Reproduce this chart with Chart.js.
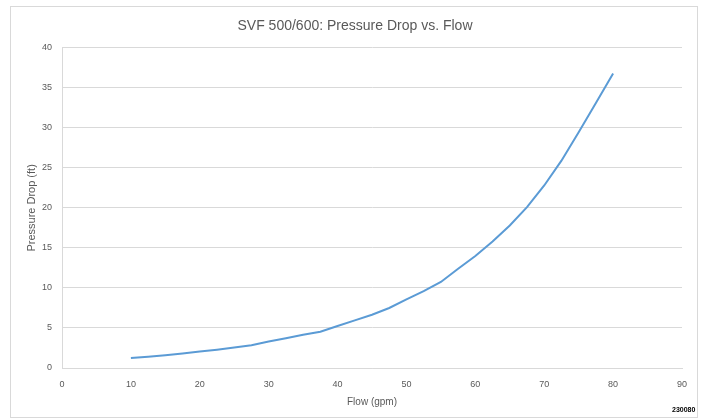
<!DOCTYPE html>
<html>
<head>
<meta charset="utf-8">
<script src="https://cdn.jsdelivr.net/npm/chart.js@4"></script>
<style>
  body { margin: 0; background: #fff; }
  #wrap { position: relative; width: 702px; height: 420px; }
  #frame { position: absolute; left: 10px; top: 6px; width: 686px; height: 410px; border: 1px solid #d9d9d9; pointer-events: none; }
  #code { position: absolute; left: 672px; top: 406px; font: bold 7px "Liberation Sans", Arial, sans-serif; color: #000; }
</style>
</head>
<body>
<div id="wrap">
  <canvas id="myChart" width="702" height="420"></canvas>
  <div id="frame"></div>
  <div id="code">230080</div>
</div>
<script>
// flow (gpm) and pressure drop (ft)
const flows = [10, 12.5, 15, 17.5, 20, 22.5, 25, 27.5, 30, 32.5, 35, 37.5, 40, 42.5, 45, 47.5, 50, 52.5, 55, 57.5, 60, 62.5, 65, 67.5, 70, 72.5, 75, 77.5, 80];
const drops = [1.25, 1.42, 1.6, 1.82, 2.05, 2.28, 2.55, 2.85, 3.3, 3.72, 4.15, 4.52, 5.25, 5.95, 6.65, 7.5, 8.56, 9.6, 10.75, 12.4, 14.0, 15.8, 17.8, 20.1, 22.8, 25.9, 29.45, 33.1, 36.8];

const xTicks = [0, 10, 20, 30, 40, 50, 60, 70, 80, 90];
const yTicks = [0, 5, 10, 15, 20, 25, 30, 35, 40];

const grey = '#595959';
const lineGrey = '#d9d9d9';
const fontFam = '"Liberation Sans", Arial, sans-serif';

// build point list for the scatter-line
var points = [];
for (let i = 0; i < flows.length; i++) {
  points.push({ x: flows[i], y: drops[i] });
}

const ctx = document.getElementById('myChart').getContext('2d');
const myChart = new Chart(ctx, {
  type: 'line',
  data: {
    datasets: [{
      label: 'Pressure Drop',
      data: points,
      borderColor: '#5b9bd5',
      borderWidth: 2,
      pointRadius: 0,
      tension: 0,
      fill: false
    }]
  },
  options: {
    responsive: false,
    animation: false,
    // left/right padding keeps the title centred on the frame
    layout: { padding: { left: 14, right: 6, top: 0, bottom: 0 } },
    plugins: {
      legend: { display: false },
      tooltip: { enabled: false },
      title: {
        display: true,
        text: 'SVF 500/600: Pressure Drop vs. Flow',
        color: grey,
        font: { family: fontFam, size: 14, weight: 'normal' },
        padding: { top: 18, bottom: 13 }
      }
    },
    scales: {
      x: {
        type: 'linear',
        min: 0,
        max: 90,
        afterBuildTicks: function (scale) {
          scale.ticks = xTicks.map(v => ({ value: v }));
        },
        afterFit: function (scale) { scale.height = 52; },
        grid: { display: false },
        border: { display: true, color: lineGrey, width: 1 },
        ticks: { color: grey, padding: 3, font: { family: fontFam, size: 9 } },
        title: {
          display: true,
          text: 'Flow (gpm)',
          color: grey,
          font: { family: fontFam, size: 10 },
          padding: { top: 0, bottom: 12 }
        }
      },
      y: {
        min: 0,
        max: 40,
        afterBuildTicks: function (scale) {
          scale.ticks = yTicks.map(v => ({ value: v }));
        },
        afterFit: function (scale) { scale.width = 48; },
        grid: { color: lineGrey, lineWidth: 1, drawTicks: false },
        border: { display: true, color: lineGrey, width: 1 },
        ticks: { color: grey, padding: 10, font: { family: fontFam, size: 9 } },
        title: {
          display: true,
          text: 'Pressure Drop (ft)',
          color: grey,
          font: { family: fontFam, size: 11 },
          padding: { top: 11, bottom: 0 }
        }
      },
      // empty spacer on the right so the plot ends where the reference does
      spacer: {
        position: 'right',
        min: 0,
        max: 40,
        afterFit: function (scale) { scale.width = 14; },
        grid: { display: false },
        border: { display: false },
        ticks: { display: false }
      }
    }
  }
});
</script>
</body>
</html>
